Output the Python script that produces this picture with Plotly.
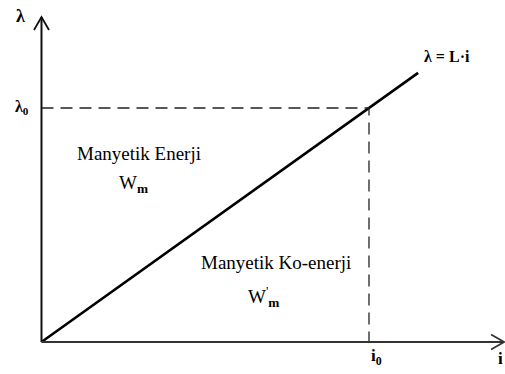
import plotly.graph_objects as go

# Magnetization characteristic of a linear inductor: flux linkage vs. current
current = [0.0, 1.15]          # i (normalised to i0)
flux_linkage = [0.0, 1.15]     # λ = L·i  (L normalised to 1)
i0 = 1.0
lambda0 = 1.0

W, H = 505, 374
x_range = [-0.1267, 1.4153]
y_range = [-0.1368, 1.4615]
x_tip = 1.4125
y_tip = 1.389

SERIF = "Liberation Serif, Times New Roman, serif"
INK = "#000000"

fig = go.Figure()

# λ = L·i characteristic
fig.add_trace(go.Scatter(
    x=current, y=flux_linkage, mode="lines",
    line=dict(color="#000000", width=2.6),
    hoverinfo="skip", showlegend=False,
))

# dashed guides to the operating point (i0, λ0)
fig.add_trace(go.Scatter(
    x=[0, i0, i0], y=[lambda0, lambda0, 0], mode="lines",
    line=dict(color="#222222", width=1.3, dash="12px,7px"),
    hoverinfo="skip", showlegend=False,
))

shapes = [
    # axes
    dict(type="line", xref="x", yref="y", x0=0, y0=0, x1=0, y1=y_tip,
         line=dict(color="#111111", width=2)),
    dict(type="line", xref="x", yref="y", x0=0, y0=0, x1=x_tip, y1=0,
         line=dict(color="#333333", width=2)),
    # open arrowheads
    dict(type="path", xref="x", yref="y", xsizemode="pixel", ysizemode="pixel",
         xanchor=0, yanchor=y_tip, path="M -7.5 -13 L 0 0 L 7.5 -13",
         line=dict(color="#111111", width=1.8)),
    dict(type="path", xref="x", yref="y", xsizemode="pixel", ysizemode="pixel",
         xanchor=x_tip, yanchor=0, path="M -13 7.5 L 0 0 L -13 -7.5",
         line=dict(color="#333333", width=1.8)),
]


def label(text, px, py, size=19):
    return dict(text=text, xref="paper", yref="paper",
                x=px / W, y=1 - py / H, xanchor="center", yanchor="middle",
                showarrow=False, font=dict(family=SERIF, size=size, color=INK))


annotations = [
    label("<b>λ</b>", 20, 16, 18),
    label("<b>λ<sub>0</sub></b>", 22, 107, 16),
    label("<b>λ = L·i</b>", 447, 57, 16),
    label("Manyetik Enerji", 139, 153),
    label("W<sub><b>m</b></sub>", 133, 184),
    label("Manyetik Ko-enerji", 276, 262),
    label("W<sup>'</sup><sub><b>m</b></sub>", 263, 296),
    label("<b>i<sub>0</sub></b>", 376, 357, 17),
    label("<b>i</b>", 500, 358, 17),
]

fig.update_layout(
    width=W, height=H,
    margin=dict(l=0, r=0, t=0, b=0),
    paper_bgcolor="white", plot_bgcolor="white",
    xaxis=dict(range=x_range, visible=False, fixedrange=True),
    yaxis=dict(range=y_range, visible=False, fixedrange=True),
    shapes=shapes, annotations=annotations,
)

fig.write_html("out.html", config={"displayModeBar": False})
